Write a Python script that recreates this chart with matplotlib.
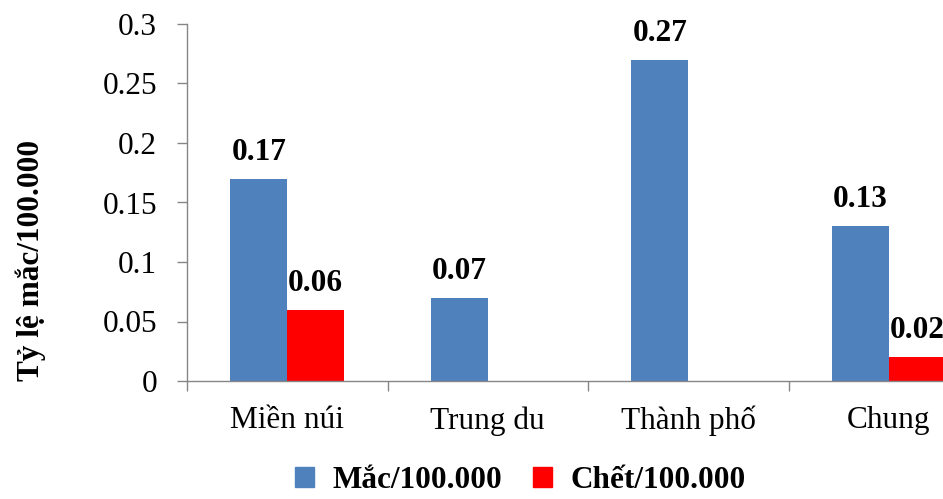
import matplotlib
matplotlib.use("Agg")
import matplotlib.pyplot as plt
from matplotlib.patches import Patch
import numpy as np

plt.rcParams['font.family'] = ['Liberation Serif', 'DejaVu Serif']

categories = ["Miền núi", "Trung du", "Thành phố", "Chung"]
mac = [0.17, 0.07, 0.27, 0.13]
chet = [0.06, 0.0, 0.0, 0.02]
mac_labels = ["0.17", "0.07", "0.27", "0.13"]
chet_labels = ["0.06", "", "", "0.02"]
series_names = ["Mắc/100.000", "Chết/100.000"]
yticks = [0, 0.05, 0.1, 0.15, 0.2, 0.25, 0.3]
ytick_labels = ["0", "0.05", "0.1", "0.15", "0.2", "0.25", "0.3"]

blue = "#4F81BD"
red = "#FF0000"
spine_col = "#868686"
fs = 22.5

fig = plt.figure(figsize=(9.43, 4.99), dpi=100)
ax = fig.add_axes([187 / 943, 1 - 381 / 499, 802 / 943, 357 / 499])

x = np.arange(len(categories))
w = 0.284
b1 = ax.bar(x - w / 2, mac, w, color=blue, zorder=2)
b2 = ax.bar(x + w / 2, chet, w, color=red, zorder=2)

for rect, lab in zip(b1, mac_labels):
    ax.annotate(lab, (rect.get_x() + rect.get_width() / 2, rect.get_height()),
                xytext=(0, 8.5), textcoords="offset points",
                ha="center", va="bottom", fontsize=fs, fontweight="bold")
for rect, lab in zip(b2, chet_labels):
    if lab:
        ax.annotate(lab, (rect.get_x() + rect.get_width() / 2, rect.get_height()),
                    xytext=(0, 8.5), textcoords="offset points",
                    ha="center", va="bottom", fontsize=fs, fontweight="bold")

ax.set_xlim(-0.5, len(categories) - 0.5)
ax.set_ylim(0, 0.3)
ax.set_yticks(yticks)
ax.set_yticklabels(ytick_labels, fontsize=fs)
ax.tick_params(axis="y", length=7.5, width=1, color=spine_col, pad=14)

ax.set_xticks(np.arange(len(categories) + 1) - 0.5)
ax.set_xticklabels([])
ax.tick_params(axis="x", which="major", length=7.5, width=1, color=spine_col)
ax.set_xticks(x, minor=True)
ax.set_xticklabels(categories, minor=True, fontsize=fs)
ax.tick_params(axis="x", which="minor", length=0, pad=18)

for s in ["top", "right"]:
    ax.spines[s].set_visible(False)
for s in ["left", "bottom"]:
    ax.spines[s].set_color(spine_col)
    ax.spines[s].set_linewidth(1)

fig.text(31 / 943, 1 - 260 / 499, "Tỷ lệ mắc/100.000", rotation=90,
         ha="center", va="center", fontsize=fs, fontweight="bold")

handles = [Patch(color=blue), Patch(color=red)]
fig.legend(handles, series_names, loc="center", bbox_to_anchor=(0.552, 0.037),
           ncol=2, frameon=False, prop={"size": fs, "weight": "bold"},
           handlelength=0.6, handleheight=0.6, handletextpad=0.6,
           columnspacing=1.0, borderpad=0.2)

fig.savefig("out.png", dpi=100)
